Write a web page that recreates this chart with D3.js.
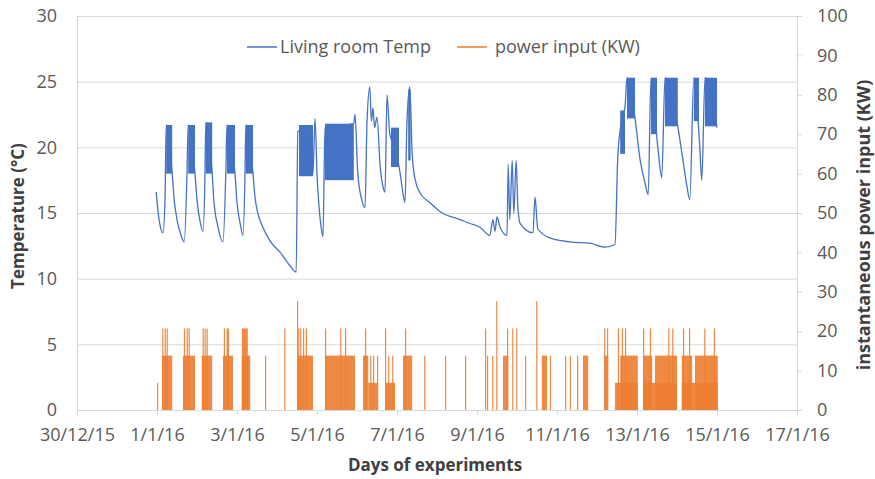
<!DOCTYPE html>
<html>
<head>
<meta charset="utf-8" />
<title>Living room temperature and power input</title>
<style>
body { margin: 0; background: #fff; }
text { font-family: "Open Sans", sans-serif; fill: #595959; }
.title { font-weight: bold; fill: #404040; font-size: 17px; }
.tick text { font-size: 18px; }
</style>
</head>
<body>
<script src="https://cdn.jsdelivr.net/npm/d3@7"></script>
<script>
// x positions are days after 30/12/15
var xTickLabels = ["30/12/15", "1/1/16", "3/1/16", "5/1/16", "7/1/16", "9/1/16",
                   "11/1/16", "13/1/16", "15/1/16", "17/1/16"];
var tempTicks = [0, 5, 10, 15, 20, 25, 30];
var powerTicks = [0, 10, 20, 30, 40, 50, 60, 70, 80, 90, 100];
var seriesNames = ["Living room Temp", "power input (KW)"];

// living room temperature trace [day, °C]
var tempTrace = [
  [1.98, 16.6], [2.03, 15.0], [2.08, 14.0], [2.15, 13.5], [2.20, 16.0], [2.23, 21.7],
  [2.38, 18.0], [2.43, 16.0], [2.50, 14.5], [2.60, 13.3], [2.68, 12.8], [2.75, 18.0],
  [2.78, 21.7], [2.95, 18.0], [3.00, 16.0], [3.08, 14.3], [3.15, 13.6], [3.20, 18.0],
  [3.22, 21.9], [3.38, 18.0], [3.42, 16.0], [3.52, 14.0], [3.65, 12.8], [3.72, 18.0],
  [3.75, 21.7], [3.95, 18.0], [4.00, 15.8], [4.08, 14.2], [4.15, 13.3], [4.20, 18.0],
  [4.22, 21.7], [4.40, 18.0], [4.45, 16.2], [4.52, 15.0], [4.62, 14.1], [4.82, 12.9],
  [5.08, 12.0], [5.32, 11.0], [5.48, 10.5], [5.52, 21.2], [5.58, 21.3], [5.90, 18.0],
  [5.95, 22.2], [6.00, 18.0], [6.05, 15.5], [6.10, 14.0], [6.15, 13.2], [6.20, 21.5],
  [6.92, 21.8], [6.95, 22.5], [7.02, 18.0], [7.12, 16.0], [7.20, 15.4], [7.25, 21.9],
  [7.32, 24.6], [7.36, 22.0], [7.40, 23.0], [7.44, 21.5], [7.50, 22.3], [7.58, 18.5],
  [7.65, 17.0], [7.70, 16.6], [7.75, 24.0], [7.82, 21.0], [7.95, 20.0], [8.08, 18.0],
  [8.15, 16.5], [8.20, 15.8], [8.25, 22.0], [8.32, 24.6], [8.38, 19.5], [8.45, 17.6],
  [8.58, 16.5], [8.82, 15.8], [9.08, 15.1], [9.58, 14.5], [9.82, 14.2], [10.08, 13.9],
  [10.32, 13.3], [10.40, 14.5], [10.45, 13.6], [10.50, 14.7], [10.58, 13.9], [10.75, 13.3],
  [10.78, 18.7], [10.82, 14.5], [10.88, 19.0], [10.92, 15.0], [10.98, 19.0], [11.02, 15.5],
  [11.08, 14.2], [11.40, 13.5], [11.45, 16.2], [11.52, 13.8], [11.82, 13.1], [12.32, 12.8],
  [12.82, 12.7], [13.20, 12.4], [13.45, 12.6], [13.52, 19.3], [13.62, 22.1], [13.70, 23.1],
  [13.75, 25.3], [13.95, 22.2], [14.08, 19.0], [14.20, 17.3], [14.28, 16.4], [14.35, 25.3],
  [14.52, 20.0], [14.62, 17.7], [14.70, 25.3], [15.02, 21.6], [15.15, 19.0], [15.25, 17.0],
  [15.32, 16.0], [15.42, 25.3], [15.57, 20.0], [15.62, 17.5], [15.70, 25.3], [16.00, 21.5]
];

// dense on/off cycling of the temperature [startDay, endDay, low °C, high °C]
var tempBands = [
  [2.23, 2.38, 18.0, 21.7], [2.78, 2.95, 18.0, 21.7], [3.22, 3.38, 18.0, 21.9],
  [3.75, 3.95, 18.0, 21.7], [4.22, 4.40, 18.0, 21.7], [5.55, 5.90, 17.8, 21.7],
  [6.20, 6.92, 17.5, 21.8], [7.85, 8.05, 18.5, 21.5], [8.28, 8.34, 19.0, 24.4],
  [13.58, 13.70, 19.5, 22.8], [13.75, 13.95, 22.2, 25.3], [14.35, 14.50, 21.0, 25.3],
  [14.70, 15.02, 21.6, 25.3], [15.42, 15.55, 22.0, 25.3], [15.70, 16.00, 21.6, 25.3]
];

// heat pump power pulses [startDay, endDay, kW]
var powerPulses = [
  [2.00, 2.02, 6.9],
  [2.13, 2.38, 13.8], [2.13, 2.16, 20.7], [2.19, 2.21, 20.7], [2.24, 2.27, 20.7],
  [2.65, 2.95, 13.8], [2.67, 2.69, 20.7], [2.74, 2.76, 20.7], [2.79, 2.82, 20.7],
  [3.12, 3.38, 13.8], [3.14, 3.16, 20.7], [3.19, 3.21, 20.7], [3.24, 3.27, 20.7],
  [3.65, 3.90, 13.8], [3.67, 3.70, 20.7], [3.74, 3.80, 20.7],
  [4.12, 4.33, 13.8], [4.12, 4.27, 20.7],
  [4.70, 4.72, 13.8], [5.18, 5.20, 20.7], [5.50, 5.52, 27.6],
  [5.50, 5.90, 13.8], [5.53, 5.55, 20.7], [5.58, 5.60, 20.7], [5.65, 5.67, 20.7], [5.72, 5.74, 20.7],
  [6.20, 6.95, 13.8], [6.20, 6.22, 20.7], [6.58, 6.60, 20.7], [6.70, 6.72, 20.7],
  [7.15, 7.28, 13.8], [7.20, 7.22, 20.7], [7.28, 7.52, 6.9], [7.33, 7.35, 13.8],
  [7.40, 7.42, 13.8], [7.50, 7.52, 13.8],
  [7.70, 7.95, 6.9], [7.70, 7.72, 20.7], [7.78, 7.80, 13.8], [7.88, 7.90, 13.8],
  [8.15, 8.38, 13.8], [8.20, 8.22, 20.7],
  [8.68, 8.70, 13.8], [9.20, 9.22, 13.8], [9.70, 9.72, 13.8],
  [10.20, 10.22, 20.7], [10.25, 10.27, 13.8], [10.38, 10.40, 13.8], [10.48, 10.50, 27.6],
  [10.65, 10.78, 13.8], [10.75, 10.77, 20.7], [10.88, 10.90, 20.7], [10.98, 11.00, 20.7],
  [11.20, 11.22, 13.8], [11.48, 11.50, 27.6], [11.62, 11.75, 13.8], [11.82, 11.84, 13.8],
  [12.20, 12.22, 13.8], [12.32, 12.34, 13.8], [12.50, 12.52, 13.8], [12.65, 12.78, 13.8],
  [13.18, 13.28, 13.8], [13.18, 13.20, 20.7], [13.25, 13.27, 20.7],
  [13.45, 14.02, 6.9], [13.58, 14.02, 13.8], [13.52, 13.54, 20.7], [13.62, 13.64, 20.7], [13.70, 13.72, 20.7],
  [14.15, 15.00, 6.9], [14.15, 14.38, 13.8], [14.45, 15.00, 13.8],
  [14.15, 14.17, 20.7], [14.32, 14.34, 20.7], [14.78, 14.80, 20.7], [14.88, 14.90, 20.7],
  [15.12, 16.02, 6.9], [15.12, 15.38, 13.8], [15.45, 16.02, 13.8],
  [15.15, 15.17, 20.7], [15.30, 15.32, 20.7], [15.68, 15.70, 20.7], [15.92, 15.94, 20.7]
];

var width = 875, height = 479;
var plotLeft = 77, plotRight = 797, plotTop = 16, plotBottom = 410;
var blue = "#4472C4", orange = "#ED7D31";

var parseDay = d3.timeParse("%d/%m/%y");
var start = parseDay(xTickLabels[0]);
function dayToDate(d) { return new Date(start.getTime() + d * 864e5); }

var x = d3.scaleTime()
    .domain([start, parseDay(xTickLabels[xTickLabels.length - 1])])
    .range([plotLeft, plotRight]);
var yT = d3.scaleLinear().domain([0, 30]).range([plotBottom, plotTop]);
var yP = d3.scaleLinear().domain([0, 100]).range([plotBottom, plotTop]);

var svg = d3.select("body").append("svg")
    .attr("width", width)
    .attr("height", height);

// gridlines
svg.append("g")
    .attr("transform", "translate(" + plotLeft + ",0)")
    .call(d3.axisLeft(yT).tickValues(tempTicks).tickSize(-(plotRight - plotLeft)).tickFormat(""))
    .call(function(g) {
        g.select(".domain").remove();
        g.selectAll("line").attr("stroke", "#d9d9d9");
    });

// power input
svg.append("g").selectAll("rect")
    .data(powerPulses)
  .enter().append("rect")
    .attr("x", function(d) { return x(dayToDate(d[0])); })
    .attr("y", function(d) { return yP(d[2]); })
    .attr("width", function(d) { return Math.max(1.2, x(dayToDate(d[1])) - x(dayToDate(d[0]))); })
    .attr("height", function(d) { return yP(0) - yP(d[2]); })
    .attr("fill", orange)
    .attr("fill-opacity", 0.9);

// temperature
svg.append("g").selectAll("rect")
    .data(tempBands)
  .enter().append("rect")
    .attr("x", function(d) { return x(dayToDate(d[0])); })
    .attr("y", function(d) { return yT(d[3]); })
    .attr("width", function(d) { return x(dayToDate(d[1])) - x(dayToDate(d[0])); })
    .attr("height", function(d) { return yT(d[2]) - yT(d[3]); })
    .attr("fill", blue);

var line = d3.line()
    .curve(d3.curveMonotoneX)
    .x(function(d) { return x(dayToDate(d[0])); })
    .y(function(d) { return yT(d[1]); });

svg.append("path")
    .datum(tempTrace)
    .attr("d", line)
    .attr("fill", "none")
    .attr("stroke", blue)
    .attr("stroke-width", 1.3);

// axes
function styleAxis(g) {
    g.select(".domain").attr("stroke", "#d9d9d9");
    g.selectAll(".tick line").attr("stroke", "#d9d9d9");
    g.selectAll(".tick text").attr("fill", "#595959").style("font-family", "Open Sans");
}

svg.append("g")
    .attr("transform", "translate(" + plotLeft + ",0)")
    .call(d3.axisLeft(yT).tickValues(tempTicks).tickSize(0).tickPadding(20))
    .call(styleAxis);

svg.append("g")
    .attr("transform", "translate(" + plotRight + ",0)")
    .call(d3.axisRight(yP).tickValues(powerTicks).tickSize(5).tickSizeOuter(0).tickPadding(15))
    .call(styleAxis);

svg.append("g")
    .attr("transform", "translate(0," + plotBottom + ")")
    .call(d3.axisBottom(x).tickValues(xTickLabels.map(parseDay))
        .tickFormat(function(d, i) { return xTickLabels[i]; })
        .tickSize(5).tickSizeOuter(0).tickPadding(13))
    .call(styleAxis);

// titles
svg.append("text").attr("class", "title")
    .attr("x", 435).attr("y", 471)
    .attr("text-anchor", "middle")
    .text("Days of experiments");

svg.append("text").attr("class", "title")
    .attr("transform", "translate(24,216) rotate(-90)")
    .attr("text-anchor", "middle")
    .text("Temperature (°C)");

svg.append("text").attr("class", "title")
    .attr("transform", "translate(870,225) rotate(-90)")
    .attr("text-anchor", "middle")
    .style("font-size", "18px")
    .text("instantaneous power input (KW)");

// legend
var legendX = [247, 457];
var legend = svg.append("g").selectAll("g")
    .data(seriesNames)
  .enter().append("g")
    .attr("transform", function(d, i) { return "translate(" + legendX[i] + ",47)"; });

legend.append("line")
    .attr("x1", 0).attr("x2", 30)
    .attr("stroke", function(d, i) { return i === 0 ? blue : orange; })
    .attr("stroke-width", 1.5);

legend.append("text")
    .attr("x", function(d, i) { return i === 0 ? 33 : 38; })
    .attr("dy", "0.35em")
    .style("font-size", "18px")
    .text(function(d) { return d; });
</script>
</body>
</html>
